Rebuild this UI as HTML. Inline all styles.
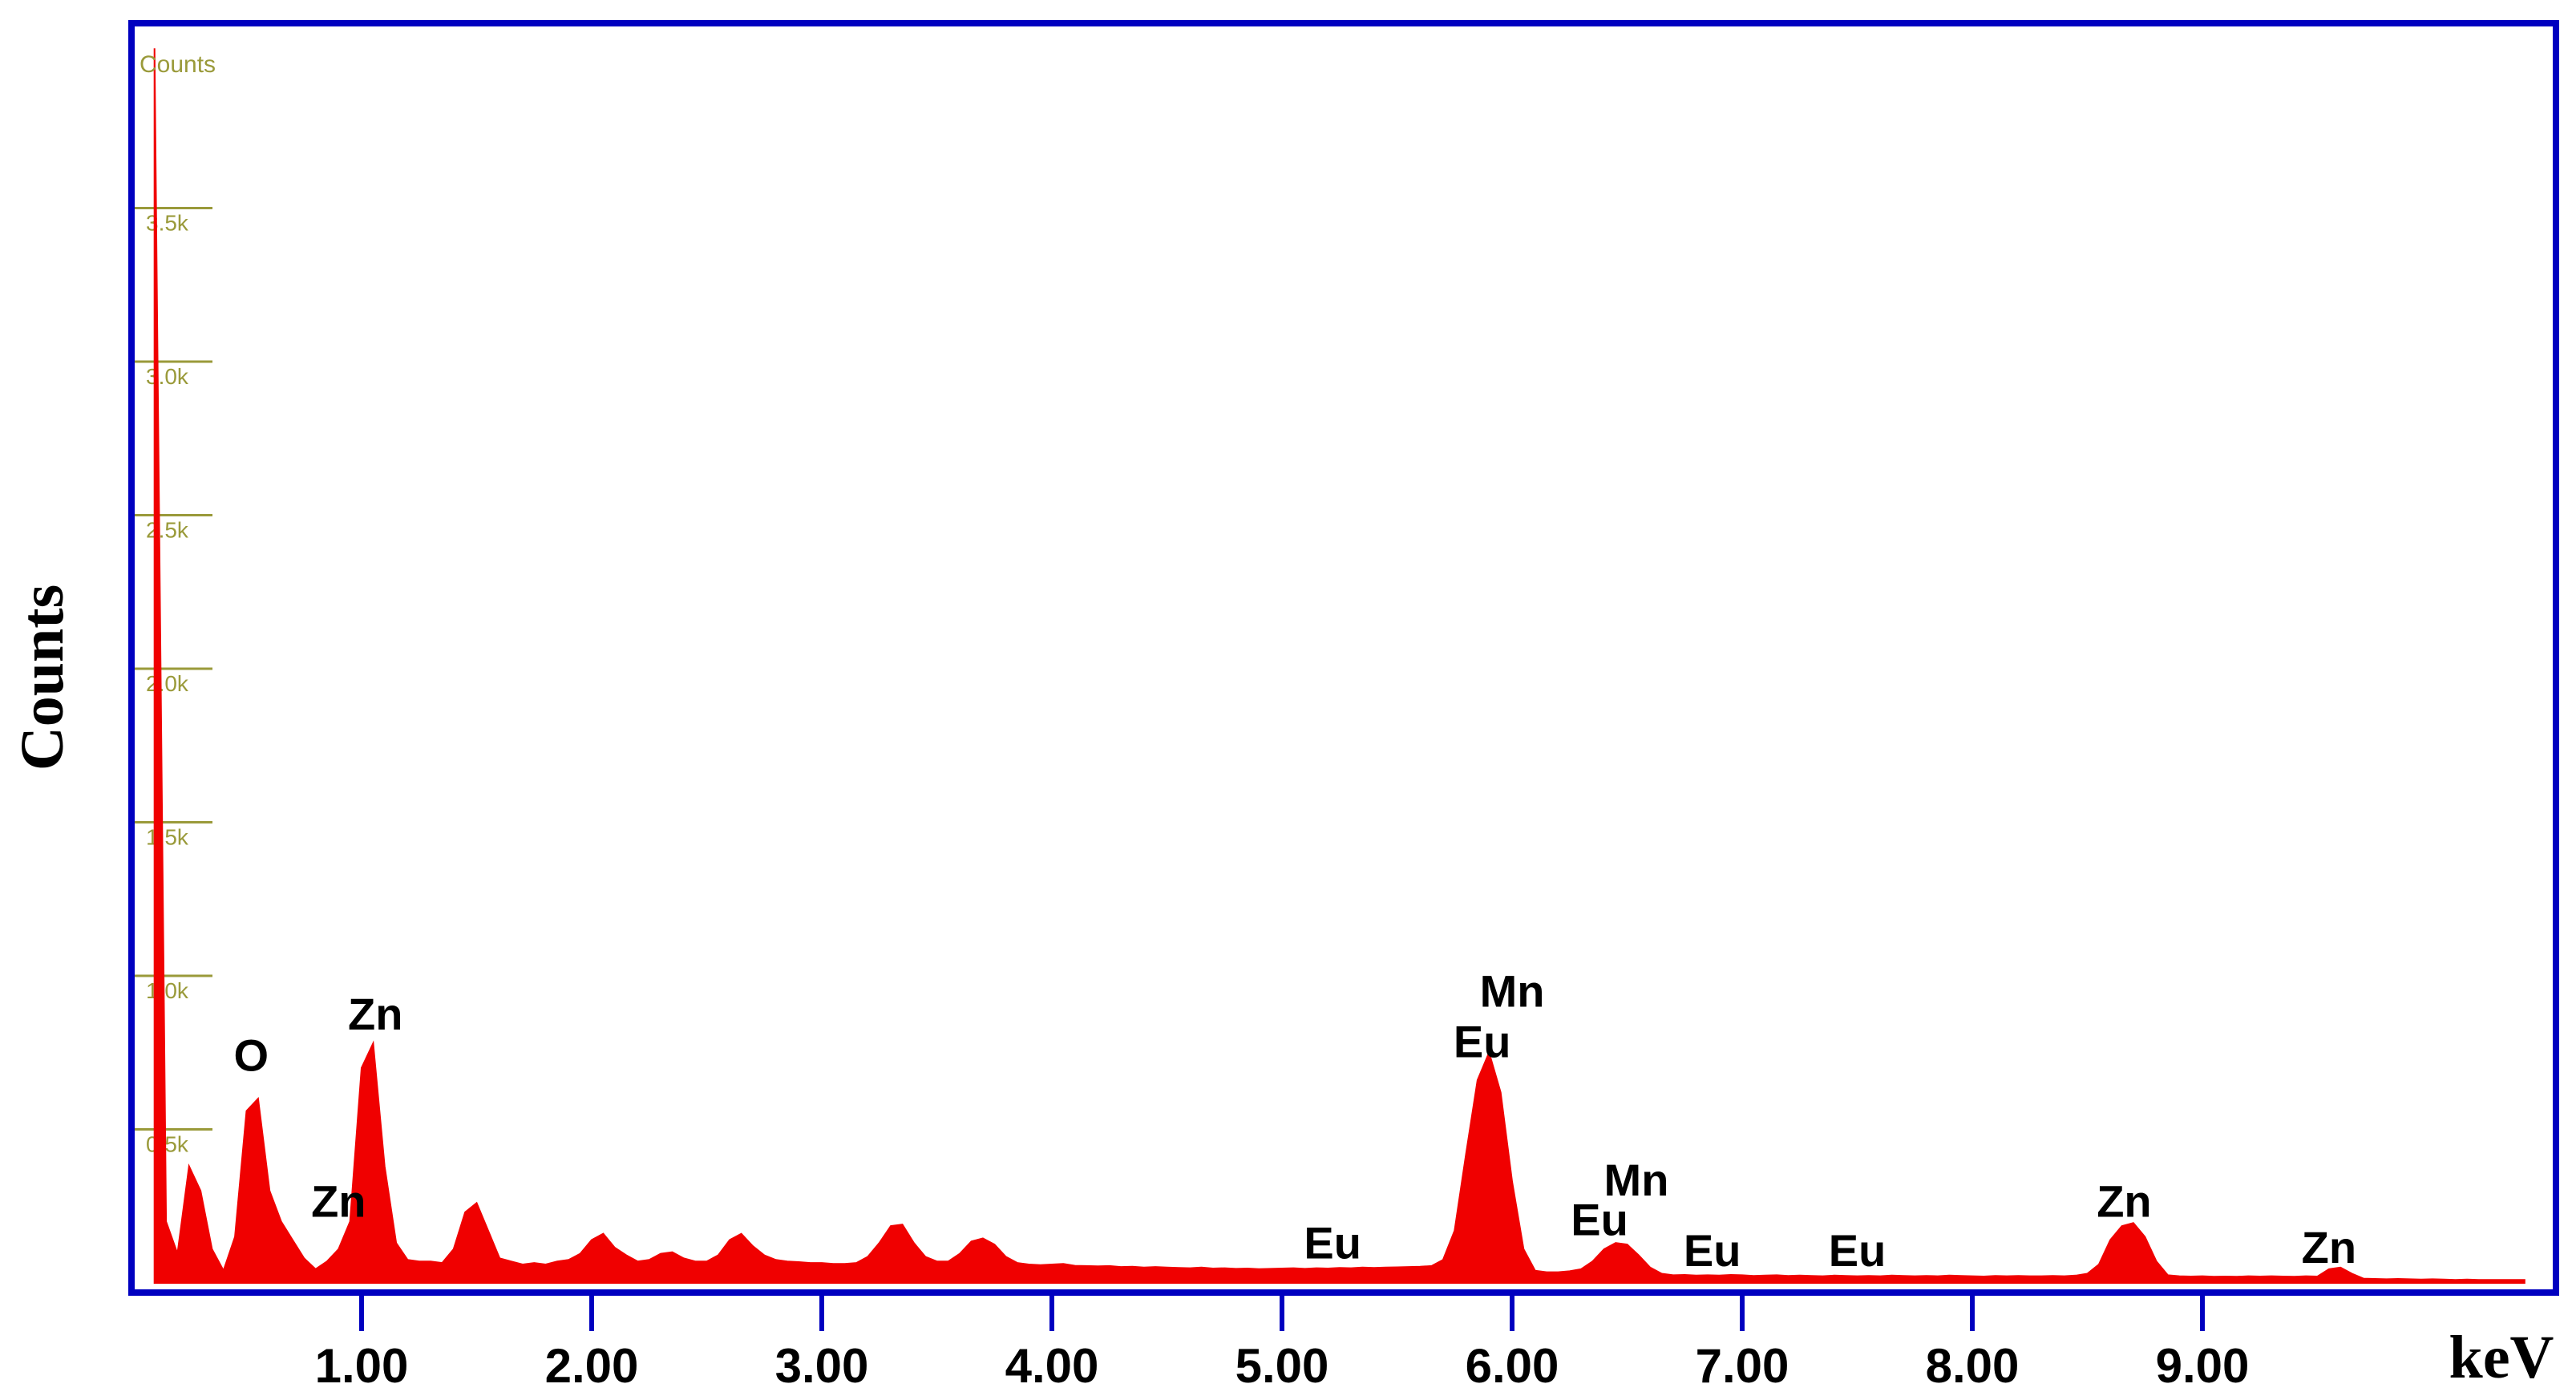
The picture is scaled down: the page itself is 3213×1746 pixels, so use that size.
<!DOCTYPE html>
<html><head><meta charset="utf-8"><style>
html,body{margin:0;padding:0;background:#fff;}
svg{display:block;}
</style></head><body>
<svg id="chart" width="3213" height="1746" viewBox="0 0 3213 1746" xmlns="http://www.w3.org/2000/svg">
<rect x="0" y="0" width="3213" height="1746" fill="#fff"/>
<g id="yticks"></g>
<path id="spectrum" fill="#f00000" stroke="#f00000" stroke-width="2"/>
<rect x="164" y="29" width="3024" height="1583" fill="none" stroke="#0000c0" stroke-width="8"/>
<g id="xticks"></g>
<g id="labels" font-family="'Liberation Sans', sans-serif" font-weight="bold" font-size="56" fill="#000" text-anchor="middle"></g>
<text x="0" y="0" transform="translate(78,845) rotate(-90)" font-family="'Liberation Serif', serif" font-weight="bold" font-size="76" text-anchor="middle">Counts</text>
<text x="3120" y="1718" font-family="'Liberation Serif', serif" font-weight="bold" font-size="76" text-anchor="middle">keV</text>
<text x="174" y="90" font-family="'Liberation Sans', sans-serif" font-size="30" fill="#9a9a3a">Counts</text>
</svg>
<script>
const startKeV = 0.10;
const stepKeV = 0.05;
const counts = [
4020,200,95,380,300,110,40,150,560,600,300,200,140,80,45,70,110,200,700,780,
380,130,75,70,70,65,110,230,260,170,80,70,60,65,60,70,75,95,140,160,
115,90,70,75,95,100,80,70,70,90,140,160,120,90,75,70,68,65,65,62,
62,65,85,130,185,190,130,85,70,70,95,135,145,125,85,65,60,58,60,62,
56,55,54,55,52,53,50,52,50,49,48,50,47,48,46,47,45,46,47,48,
46,48,47,49,48,50,49,50,51,52,53,55,75,170,420,660,750,620,330,110,
40,35,35,38,45,70,110,130,125,90,50,30,25,26,24,25,24,26,25,23,
24,25,23,24,23,22,24,23,22,23,22,24,23,22,23,22,24,23,22,21,
23,22,23,22,22,23,22,24,30,60,140,185,195,150,70,25,22,21,22,20,
21,20,22,21,22,21,20,22,21,45,50,30,14,13,12,13,12,11,12,11,
10,11,10,10,10,10,10
];
const xTickValues = [1,2,3,4,5,6,7,8,9];
const xTickLabels = ["1.00","2.00","3.00","4.00","5.00","6.00","7.00","8.00","9.00"];
const yTickValues = [500,1000,1500,2000,2500,3000,3500];
const yTickLabels = ["0.5k","1.0k","1.5k","2.0k","2.5k","3.0k","3.5k"];
const peakLabels = ["O","Zn","Zn","Eu","Mn","Eu","Mn","Eu","Eu","Eu","Zn","Zn"];
const peakLabelKeV = [0.52,1.06,0.90,5.22,6.00,5.87,6.54,6.38,6.87,7.50,8.66,9.55];
const peakLabelCounts = [690,825,215,80,900,735,285,155,55,55,215,65];

const NS = "http://www.w3.org/2000/svg";
function xs(k){ return 164 + k*287; }
function ys(c){ return 1600 - c*0.383; }

let d = "M" + xs(startKeV) + "," + ys(0);
counts.forEach((c,i)=>{ d += " L" + xs(startKeV + i*stepKeV).toFixed(1) + "," + ys(c).toFixed(1); });
d += " L" + xs(startKeV + (counts.length-1)*stepKeV).toFixed(1) + "," + ys(0) + " Z";
document.getElementById('spectrum').setAttribute('d', d);

const yg = document.getElementById('yticks');
yTickValues.forEach((v,i)=>{
  const l = document.createElementNS(NS,'line');
  l.setAttribute('x1',168); l.setAttribute('x2',265);
  l.setAttribute('y1',ys(v)); l.setAttribute('y2',ys(v));
  l.setAttribute('stroke','#9a9a3a'); l.setAttribute('stroke-width','3');
  
  
  yg.appendChild(l);
  const t = document.createElementNS(NS,'text');
  t.setAttribute('x',182); t.setAttribute('y',ys(v)+28);
  t.setAttribute('font-family',"'Liberation Sans', sans-serif");
  t.setAttribute('font-size','28'); t.setAttribute('fill','#9a9a3a');
  t.textContent = yTickLabels[i];
  
  
  yg.appendChild(t);
});

const xg = document.getElementById('xticks');
xTickValues.forEach((v,i)=>{
  const l = document.createElementNS(NS,'line');
  l.setAttribute('x1',xs(v)); l.setAttribute('x2',xs(v));
  l.setAttribute('y1',1612); l.setAttribute('y2',1660);
  l.setAttribute('stroke','#0000c0'); l.setAttribute('stroke-width','6');
  
  
  xg.appendChild(l);
  const t = document.createElementNS(NS,'text');
  t.setAttribute('x',xs(v)); t.setAttribute('y',1724);
  t.setAttribute('font-family',"'Liberation Sans', sans-serif");
  t.setAttribute('font-weight','bold');
  t.setAttribute('font-size','60'); t.setAttribute('text-anchor','middle');
  t.textContent = xTickLabels[i];
  
  
  xg.appendChild(t);
});

const lg = document.getElementById('labels');
peakLabels.forEach((s,i)=>{
  const t = document.createElementNS(NS,'text');
  t.setAttribute('x',xs(peakLabelKeV[i]));
  t.setAttribute('y',ys(peakLabelCounts[i]));
  t.textContent = s;
  
  
  lg.appendChild(t);
});
</script>
</body></html>
